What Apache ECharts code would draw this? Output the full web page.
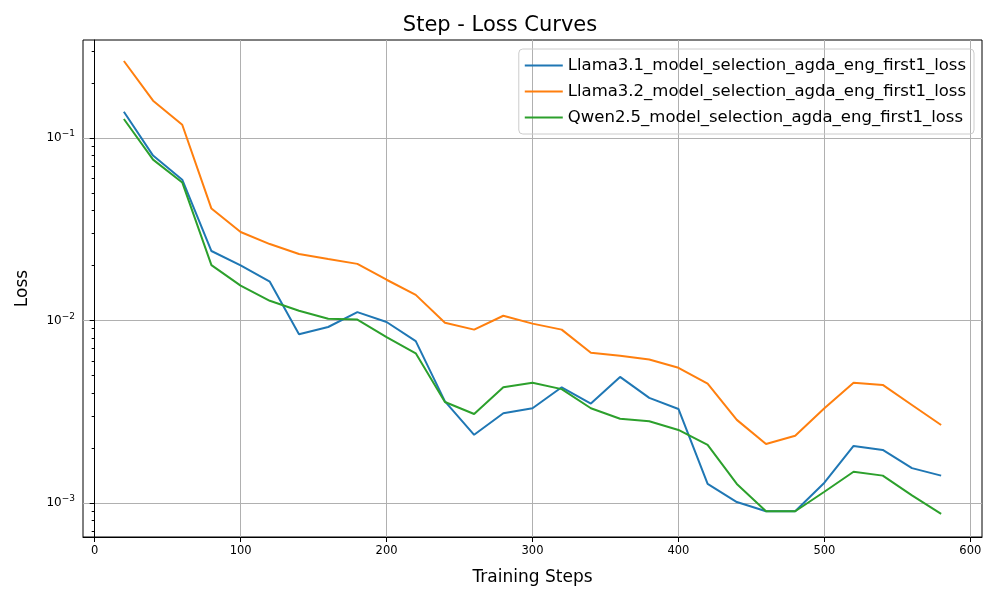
<!DOCTYPE html>
<html>
<head>
<meta charset="utf-8">
<script src="https://cdn.jsdelivr.net/npm/echarts@6/dist/echarts.min.js"></script>
<style>html,body{margin:0;padding:0;background:#fff}</style>
</head>
<body>
<div id="main" style="width:1000px;height:600px"></div>
<script>
var steps = [20,40,60,80,100,120,140,160,180,200,220,240,260,280,300,320,340,360,380,400,420,440,460,480,500,520,540,560,580];
var llama31 = [0.139,0.080,0.059,0.024,0.020,0.0163,0.0084,0.0092,0.0111,0.0098,0.0077,0.0036,0.00236,0.0031,0.0033,0.0043,0.0035,0.0049,0.00376,0.00327,0.00127,0.00101,0.00090,0.00090,0.00129,0.00205,0.00195,0.00155,0.00141];
var llama32 = [0.264,0.160,0.118,0.041,0.0305,0.0262,0.0231,0.0217,0.0204,0.0167,0.0138,0.0097,0.0089,0.0106,0.0096,0.0089,0.00664,0.0064,0.0061,0.0055,0.0045,0.00285,0.0021,0.00233,0.0033,0.00455,0.00443,0.00344,0.00267];
var qwen25 = [0.127,0.076,0.057,0.0201,0.0155,0.0128,0.0113,0.0102,0.0101,0.0081,0.0066,0.00357,0.00307,0.0043,0.00455,0.0042,0.0033,0.00289,0.0028,0.00251,0.00208,0.00127,0.0009,0.0009,0.00115,0.00148,0.00141,0.0011,0.00087];
var xTicks = [0,100,200,300,400,500,600];
var yTicks = [0.001,0.01,0.1];
var names = ['Llama3.1_model_selection_agda_eng_first1_loss','Llama3.2_model_selection_agda_eng_first1_loss','Qwen2.5_model_selection_agda_eng_first1_loss'];
var colors = ['#1f77b4','#ff7f0e','#2ca02c'];

function pairs(v){ return steps.map(function(s,i){ return [s,v[i]]; }); }

var chart = echarts.init(document.getElementById('main'));
chart.setOption({
  animation:false,
  textStyle:{fontFamily:'DejaVu Sans'},
  title:{text:'Step - Loss Curves',left:'center',top:10,textStyle:{fontSize:21,fontWeight:'normal',color:'#000'}},
  legend:{orient:'vertical',right:26,top:49,itemWidth:38,itemHeight:2,itemGap:9,
    borderColor:'#ccc',borderWidth:1,borderRadius:4,padding:[8,8,8,6],
    textStyle:{fontSize:16.5,color:'#000'},icon:'rect',data:names},
  grid:{left:83,right:18,top:40,bottom:63,show:true,borderColor:'#000',borderWidth:1},
  xAxis:{type:'value',min:-8,max:608,name:'Training Steps',nameLocation:'middle',nameGap:32,
    nameTextStyle:{fontSize:17,color:'#000'},
    axisLine:{onZero:false,lineStyle:{color:'#000'}},
    axisTick:{customValues:xTicks,length:5,lineStyle:{color:'#000'}},
    axisLabel:{customValues:xTicks,color:'#000',fontSize:11.5},
    splitLine:{show:true,lineStyle:{color:'#b0b0b0'}}},
  yAxis:{type:'log',logBase:10,min:0.00065,max:0.344,name:'Loss',nameLocation:'middle',nameGap:52,
    nameTextStyle:{fontSize:17,color:'#000'},
    axisLine:{show:true,lineStyle:{color:'#000'}},
    axisTick:{show:true,customValues:yTicks,length:5,lineStyle:{color:'#000'}},
    minorTick:{show:true,splitNumber:9,length:3,lineStyle:{color:'#000'}},
    axisLabel:{customValues:yTicks,color:'#000',fontSize:12,
      formatter:function(v){ return '10{sup|\u2212'+Math.round(-Math.log10(v))+'}'; },
      rich:{sup:{fontSize:9,verticalAlign:'top',padding:[0,0,8,0]}}},
    splitLine:{show:true,lineStyle:{color:'#b0b0b0'}}},
  series:[llama31,llama32,qwen25].map(function(v,i){
    return {name:names[i],type:'line',data:pairs(v),showSymbol:false,
      lineStyle:{width:2,color:colors[i]},itemStyle:{color:colors[i]}};
  })
});
</script>
</body>
</html>
